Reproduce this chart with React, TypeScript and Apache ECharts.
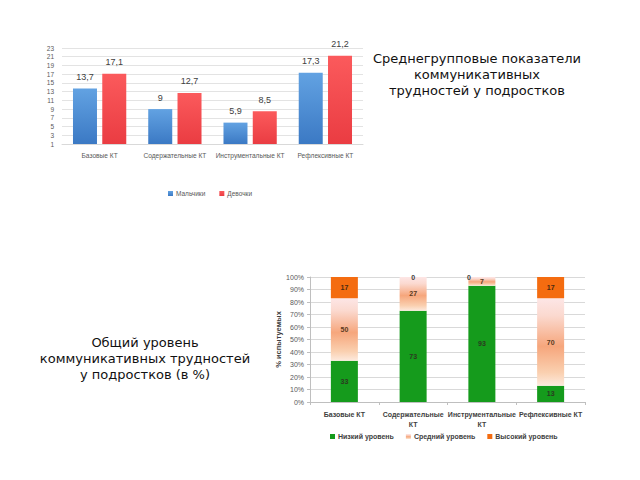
import React, { useEffect, useRef } from "react";
import * as echarts from "echarts";

const topCategories = ["Базовые КТ", "Содержательные КТ", "Инструментальные КТ", "Рефлексивные КТ"];
const boysName = "Мальчики";
const girlsName = "Девочки";
const boys = [13.7, 9, 5.9, 17.3];
const girls = [17.1, 12.7, 8.5, 21.2];
const topMin = 1;
const topMax = 23;
const topInterval = 2;

const bottomCategories = ["Базовые КТ", "Содержательные\nКТ", "Инструментальные\nКТ", "Рефлексивные КТ"];
const lowName = "Низкий уровень";
const midName = "Средний уровень";
const highName = "Высокий уровень";
const low = [33, 73, 93, 13];
const mid = [50, 27, 7, 70];
const high = [17, 0, 0, 17];
const bottomAxisName = "% испытуемых";

const topTitle = "Среднегрупповые показатели\nкоммуникативных\nтрудностей у подростков";
const bottomTitle = "Общий уровень\nкоммуникативных трудностей\nу подростков (в %)";

const fmtComma = (v: number) => String(v).replace(".", ",");

export default function App() {
  const ref = useRef<HTMLDivElement>(null);
  useEffect(() => {
    if (!ref.current) return;
    const chart = echarts.init(ref.current, undefined, { renderer: "svg" });
    const lin = (a: string, b: string) =>
      new echarts.graphic.LinearGradient(0, 0, 0, 1, [
        { offset: 0, color: a },
        { offset: 1, color: b },
      ]);
    const midGrad = new echarts.graphic.LinearGradient(0, 0, 0, 1, [
      { offset: 0, color: "#fde6e6" },
      { offset: 0.2, color: "#fbd9cf" },
      { offset: 0.55, color: "#f6a67c" },
      { offset: 0.85, color: "#fad0b0" },
      { offset: 1, color: "#fdeade" },
    ]);
    const axisFont = "'Liberation Sans', sans-serif";
    chart.setOption({
      animation: false,
      backgroundColor: "#ffffff",
      graphic: [
        {
          type: "text",
          x: 477,
          y: 50,
          style: {
            text: topTitle,
            font: "13px 'DejaVu Sans'",
            fill: "#111",
            textAlign: "center",
            lineHeight: 16,
          },
        },
        {
          type: "text",
          x: 145,
          y: 334,
          style: {
            text: bottomTitle,
            font: "13px 'DejaVu Sans'",
            fill: "#111",
            textAlign: "center",
            lineHeight: 16,
          },
        },
      ],
      legend: [
        {
          data: [boysName, girlsName],
          left: 163,
          top: 185,
          itemWidth: 5,
          itemHeight: 5,
          itemGap: 14,
          icon: "rect",
          textStyle: { fontSize: 6.5, color: "#595959", fontFamily: axisFont, padding: [0, 0, 0, -2] },
        },
        {
          data: [lowName, midName, highName],
          left: 325,
          top: 428,
          itemWidth: 5,
          itemHeight: 5,
          itemGap: 12,
          icon: "rect",
          textStyle: { fontSize: 7, color: "#404040", fontWeight: "bold", fontFamily: axisFont, padding: [0, 0, 0, -2] },
        },
      ],
      grid: [
        { left: 62, right: 277, top: 48, bottom: 336 },
        { left: 310, right: 55, top: 277, bottom: 78 },
      ],
      xAxis: [
        {
          type: "category",
          gridIndex: 0,
          data: topCategories,
          axisLine: { show: true, lineStyle: { color: "#d9d9d9" } },
          axisTick: { show: false },
          axisLabel: { interval: 0, fontSize: 6.6, color: "#595959", fontFamily: axisFont, margin: 8 },
        },
        {
          type: "category",
          gridIndex: 1,
          data: bottomCategories,
          axisLine: { show: true, lineStyle: { color: "#bfbfbf" } },
          axisTick: { show: true, length: 3, lineStyle: { color: "#bfbfbf" } },
          axisLabel: {
            interval: 0,
            fontSize: 7,
            color: "#404040",
            fontWeight: "bold",
            fontFamily: axisFont,
            margin: 7,
            lineHeight: 10,
          },
        },
      ],
      yAxis: [
        {
          type: "value",
          gridIndex: 0,
          min: topMin,
          max: topMax,
          interval: topInterval,
          startValue: topMin,
          axisLine: { show: false },
          axisTick: { show: false },
          splitLine: { lineStyle: { color: "#e3e3e3" } },
          axisLabel: { fontSize: 6.5, color: "#595959", fontFamily: axisFont, margin: 8 },
        },
        {
          type: "value",
          gridIndex: 1,
          min: 0,
          max: 100,
          interval: 10,
          name: bottomAxisName,
          nameLocation: "middle",
          nameGap: 25,
          nameRotate: 90,
          nameTextStyle: { fontSize: 7.5, fontWeight: "bold", color: "#404040", fontFamily: axisFont },
          axisLine: { show: true, lineStyle: { color: "#bfbfbf" } },
          axisTick: { show: true, length: 3, lineStyle: { color: "#bfbfbf" } },
          splitLine: { lineStyle: { color: "#d9d9d9" } },
          axisLabel: { fontSize: 7, color: "#595959", fontFamily: axisFont, margin: 6, formatter: "{value}%" },
        },
      ],
      series: [
        {
          name: boysName,
          type: "bar",
          xAxisIndex: 0,
          yAxisIndex: 0,
          data: boys,
          barWidth: 24,
          barGap: "22%",
          itemStyle: { color: lin("#62a2e2", "#3b79c4") },
          label: {
            show: true,
            position: "top",
            distance: 7,
            fontSize: 9,
            color: "#404040",
            fontFamily: axisFont,
            formatter: (p: any) => fmtComma(p.value),
          },
        },
        {
          name: girlsName,
          type: "bar",
          xAxisIndex: 0,
          yAxisIndex: 0,
          data: girls,
          barWidth: 24,
          barGap: "22%",
          itemStyle: { color: lin("#fb5a5c", "#ea3c42") },
          label: {
            show: true,
            position: "top",
            distance: 7,
            fontSize: 9,
            color: "#404040",
            fontFamily: axisFont,
            formatter: (p: any) => fmtComma(p.value),
          },
        },
        {
          name: lowName,
          type: "bar",
          xAxisIndex: 1,
          yAxisIndex: 1,
          stack: "lvl",
          data: low,
          barWidth: 27,
          itemStyle: { color: "#159b1c" },
          label: { show: true, position: "inside", fontSize: 7, fontWeight: "bold", color: "#2b3a20", fontFamily: axisFont },
        },
        {
          name: midName,
          type: "bar",
          xAxisIndex: 1,
          yAxisIndex: 1,
          stack: "lvl",
          data: mid,
          barWidth: 27,
          itemStyle: { color: midGrad },
          label: { show: true, position: "inside", fontSize: 7, fontWeight: "bold", color: "#5a3a20", fontFamily: axisFont },
        },
        {
          name: highName,
          type: "bar",
          xAxisIndex: 1,
          yAxisIndex: 1,
          stack: "lvl",
          data: high.map((v, i) =>
            v === 0 ? { value: v, label: { offset: i === 2 ? [-13, 0] : [0, 0] } } : v
          ),
          barWidth: 27,
          itemStyle: { color: "#f46c10" },
          label: {
            show: true,
            position: "inside",
            fontSize: 7,
            fontWeight: "bold",
            fontFamily: axisFont,
            formatter: (p: any) => (p.value === 0 ? "{z|0}" : "{h|" + p.value + "}"),
            rich: {
              z: { color: "#404040", fontSize: 7, fontWeight: "bold", fontFamily: axisFont },
              h: { color: "#4a2a10", fontSize: 7, fontWeight: "bold", fontFamily: axisFont },
            },
          },
        },
      ],
    });
    return () => chart.dispose();
  }, []);
  return (
    <div
      ref={ref}
      style={{ position: "fixed", left: 0, top: 0, width: 640, height: 480, background: "#fff" }}
    />
  );
}
